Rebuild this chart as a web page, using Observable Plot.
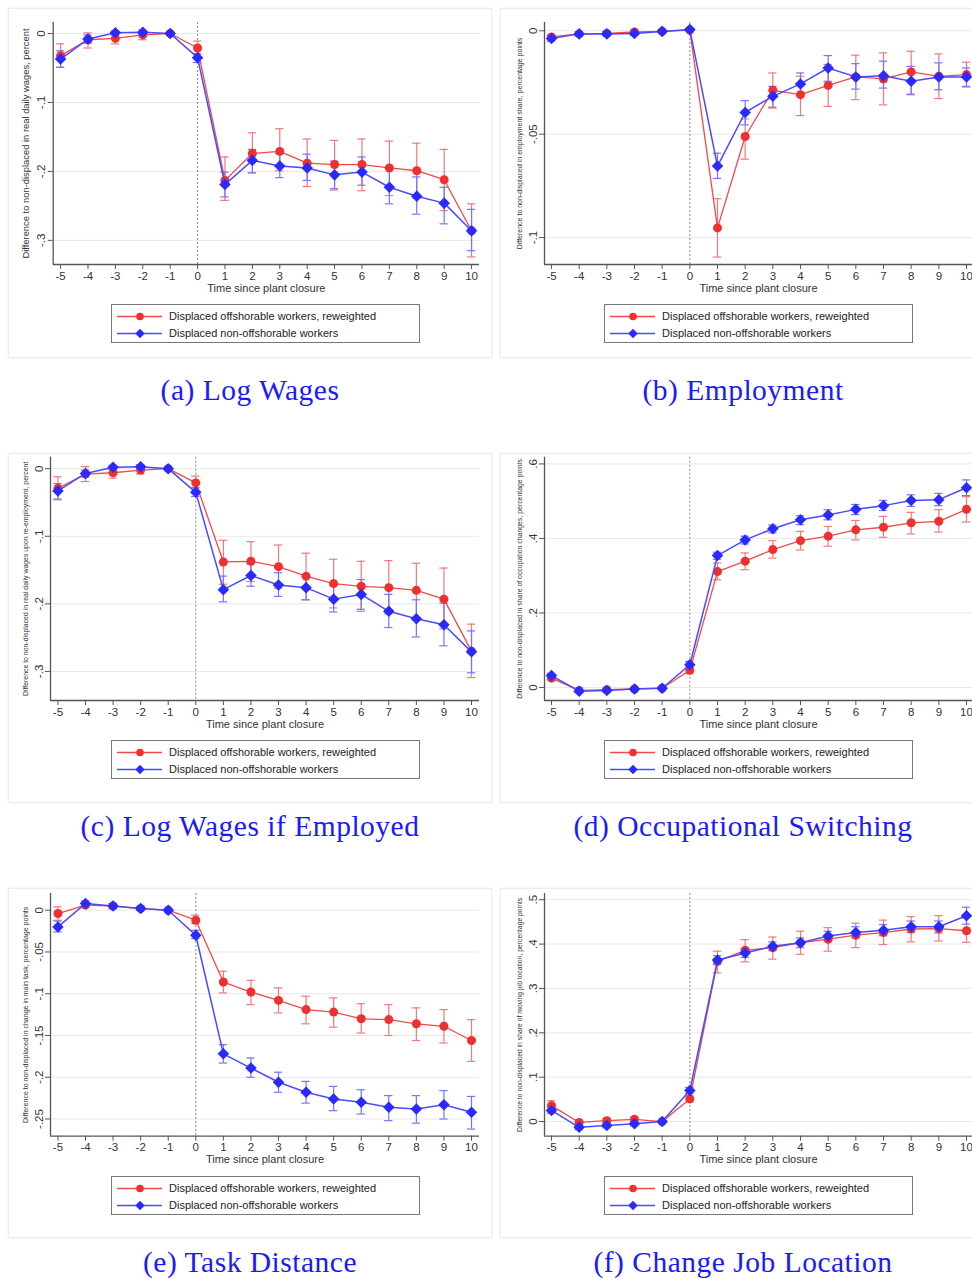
<!DOCTYPE html>
<html><head><meta charset="utf-8">
<script src="https://cdn.jsdelivr.net/npm/d3@7"></script>
<script src="https://cdn.jsdelivr.net/npm/@observablehq/plot@0.6"></script>
<style>
body{margin:0;background:#fff;width:972px;height:1278px;overflow:hidden;font-family:"Liberation Sans",Arial,sans-serif;}
#root{position:relative;width:972px;height:1278px;overflow:hidden;}
.panel{position:absolute;}
.bg{position:absolute;border:1px solid #ededed;background:#fff;box-shadow:0 0 3px #f0f0f0;}
.legend{position:absolute;border:1px solid #777;background:#fff;height:39px;width:309px;box-sizing:border-box;}
.legend .t{position:absolute;left:57px;font-size:11px;color:#222;white-space:nowrap;line-height:13px;}
.caption{position:absolute;font-family:"Liberation Serif",serif;color:#1a1aff;font-size:29.5px;transform:translate(-50%,-50%);white-space:nowrap;letter-spacing:0.5px;}
svg{overflow:visible;}
</style></head>
<body><div id="root"></div>
<script>
// ---------------- data ----------------
const years = [-5,-4,-3,-2,-1,0,1,2,3,4,5,6,7,8,9,10];
const legendLabels = ["Displaced offshorable workers, reweighted", "Displaced non-offshorable workers"];
const xTitle = "Time since plant closure";

// each entry: [ci low, estimate, ci high]
// (a) Log Wages
const aRed = [[-0.049,-0.032,-0.015],[-0.021,-0.009,0.001],[-0.015,-0.007,-0.0005],[-0.009,-0.002,0.003],[0,0,0],[-0.031,-0.021,-0.011],
  [-0.242,-0.213,-0.179],[-0.202,-0.174,-0.144],[-0.199,-0.171,-0.138],[-0.222,-0.188,-0.153],[-0.227,-0.190,-0.155],[-0.228,-0.190,-0.153],
  [-0.235,-0.195,-0.156],[-0.239,-0.199,-0.159],[-0.257,-0.212,-0.168],[-0.324,-0.286,-0.247]];
const aBlue = [[-0.049,-0.037,-0.025],[-0.014,-0.008,-0.002],[-0.002,0.001,0.004],[-0.001,0.002,0.005],[0,0,0],[-0.042,-0.035,-0.029],
  [-0.237,-0.219,-0.201],[-0.202,-0.184,-0.168],[-0.209,-0.192,-0.174],[-0.213,-0.195,-0.175],[-0.225,-0.205,-0.185],[-0.220,-0.201,-0.179],
  [-0.247,-0.223,-0.196],[-0.262,-0.236,-0.208],[-0.276,-0.246,-0.223],[-0.315,-0.286,-0.255]];
// (b) Employment
const bRed = [[-0.005,-0.003,-0.002],[-0.0025,-0.0015,-0.0005],[-0.0023,-0.0013,-0.0003],[-0.0016,-0.0006,0.0004],[-0.0008,-0.0003,0.0002],[-0.0002,0.0003,0.0008],
  [-0.1094,-0.0953,-0.0812],[-0.0621,-0.0511,-0.0426],[-0.0374,-0.0288,-0.0204],[-0.041,-0.0309,-0.022],[-0.0366,-0.0264,-0.0163],[-0.0333,-0.0223,-0.0118],
  [-0.0358,-0.0233,-0.0107],[-0.0306,-0.0199,-0.0099],[-0.0328,-0.022,-0.0112],[-0.0272,-0.0212,-0.0152]];
const bBlue = [[-0.005,-0.0037,-0.0024],[-0.0025,-0.0015,-0.0005],[-0.0025,-0.0015,-0.0005],[-0.0023,-0.0013,-0.0003],[-0.0008,-0.0003,0.0002],[0.0001,0.0006,0.0011],
  [-0.0714,-0.0654,-0.0592],[-0.0455,-0.0395,-0.0338],[-0.0369,-0.0317,-0.0269],[-0.0314,-0.0257,-0.0204],[-0.0244,-0.018,-0.012],[-0.0282,-0.0223,-0.0159],
  [-0.0277,-0.0217,-0.0147],[-0.0309,-0.0244,-0.0172],[-0.0285,-0.0223,-0.0155],[-0.0269,-0.0223,-0.018]];
// (c) Log Wages if Employed
const cRed = [[-0.046,-0.029,-0.012],[-0.019,-0.008,0.003],[-0.014,-0.006,-0.0005],[-0.008,-0.002,0.002],[0,0,0],[-0.030,-0.021,-0.011],
  [-0.171,-0.138,-0.106],[-0.167,-0.137,-0.108],[-0.177,-0.145,-0.113],[-0.194,-0.159,-0.125],[-0.206,-0.170,-0.134],[-0.211,-0.174,-0.137],
  [-0.215,-0.176,-0.136],[-0.222,-0.180,-0.140],[-0.237,-0.193,-0.147],[-0.309,-0.270,-0.230]];
const cBlue = [[-0.045,-0.033,-0.022],[-0.012,-0.007,-0.002],[-0.001,0.002,0.005],[0,0.003,0.006],[0,0,0],[-0.041,-0.035,-0.028],
  [-0.197,-0.179,-0.159],[-0.174,-0.158,-0.141],[-0.189,-0.172,-0.154],[-0.194,-0.176,-0.157],[-0.212,-0.193,-0.173],[-0.208,-0.186,-0.164],
  [-0.235,-0.211,-0.186],[-0.249,-0.222,-0.194],[-0.262,-0.231,-0.199],[-0.302,-0.271,-0.240]];
// (d) Occupational Switching
const dRed = [[0.020,0.025,0.030],[-0.012,-0.008,-0.004],[-0.010,-0.006,-0.002],[-0.007,-0.004,-0.001],[-0.005,-0.002,0.001],[0.037,0.046,0.055],
  [0.289,0.311,0.334],[0.316,0.339,0.361],[0.347,0.370,0.394],[0.369,0.394,0.419],[0.379,0.406,0.432],[0.396,0.423,0.448],
  [0.403,0.430,0.459],[0.412,0.442,0.470],[0.417,0.446,0.477],[0.444,0.478,0.512]];
const dBlue = [[0.026,0.032,0.038],[-0.014,-0.010,-0.006],[-0.012,-0.008,-0.004],[-0.007,-0.004,-0.001],[-0.005,-0.002,0.001],[0.052,0.061,0.070],
  [0.344,0.354,0.363],[0.385,0.396,0.406],[0.415,0.426,0.436],[0.437,0.450,0.461],[0.450,0.463,0.477],[0.464,0.478,0.491],
  [0.475,0.488,0.502],[0.486,0.502,0.517],[0.488,0.504,0.521],[0.515,0.536,0.557]];
// (e) Task Distance
const eRed = [[-0.012,-0.004,0.004],[0.003,0.006,0.009],[0.002,0.005,0.008],[0,0.002,0.004],[0,0,0],[-0.016,-0.012,-0.006],
  [-0.099,-0.086,-0.073],[-0.113,-0.098,-0.084],[-0.123,-0.108,-0.093],[-0.136,-0.119,-0.103],[-0.140,-0.122,-0.105],[-0.147,-0.130,-0.112],
  [-0.150,-0.131,-0.113],[-0.156,-0.136,-0.117],[-0.159,-0.139,-0.119],[-0.181,-0.156,-0.131]];
const eBlue = [[-0.026,-0.020,-0.013],[0.005,0.008,0.011],[0.002,0.005,0.008],[0,0.002,0.004],[0,0,0],[-0.034,-0.030,-0.024],
  [-0.183,-0.172,-0.161],[-0.200,-0.189,-0.177],[-0.218,-0.206,-0.194],[-0.231,-0.218,-0.205],[-0.240,-0.226,-0.211],[-0.244,-0.230,-0.215],
  [-0.252,-0.236,-0.222],[-0.255,-0.238,-0.222],[-0.250,-0.233,-0.216],[-0.262,-0.242,-0.223]];
// (f) Change Job Location
const fRed = [[0.025,0.036,0.047],[-0.007,-0.002,0.003],[-0.003,0.002,0.007],[0,0.005,0.010],[0,0,0],[0.044,0.051,0.058],
  [0.335,0.361,0.384],[0.360,0.386,0.410],[0.366,0.392,0.416],[0.377,0.403,0.429],[0.384,0.411,0.437],[0.392,0.420,0.447],
  [0.399,0.426,0.454],[0.405,0.434,0.462],[0.407,0.435,0.464],[0.404,0.430,0.459]];
const fBlue = [[0.019,0.025,0.031],[-0.018,-0.013,-0.008],[-0.014,-0.009,-0.004],[-0.010,-0.005,0],[0,0,0],[0.063,0.070,0.077],
  [0.354,0.364,0.374],[0.370,0.380,0.390],[0.385,0.395,0.405],[0.392,0.403,0.414],[0.407,0.418,0.429],[0.414,0.426,0.439],
  [0.419,0.431,0.444],[0.426,0.439,0.452],[0.425,0.439,0.452],[0.445,0.464,0.483]];

const yTicksA = [0,-0.1,-0.2,-0.3], yLabA = ["0","-.1","-.2","-.3"];
const yTicksB = [0,-0.05,-0.1], yLabB = ["0","-.05","-.1"];
const yTicksD = [0,0.2,0.4,0.6], yLabD = ["0",".2",".4",".6"];
const yTicksE = [0,-0.05,-0.1,-0.15,-0.2,-0.25], yLabE = ["0","-.05","-.1","-.15","-.2","-.25"];
const yTicksF = [0,0.1,0.2,0.3,0.4,0.5], yLabF = ["0",".1",".2",".3",".4",".5"];

const yTitles = [
  "Difference to non-displaced in real daily wages, percent",
  "Difference to non-displaced in employment share, percentage points",
  "Difference to non-displaced in real daily wages upon re-employment, percent",
  "Difference to non-displaced in share of occupation changes, percentage points",
  "Difference to non-displaced in change in main task, percentage points",
  "Difference to non-displaced in share of moving job location, percentage points"
];
const captions = ["(a) Log Wages","(b) Employment","(c) Log Wages if Employed","(d) Occupational Switching","(e) Task Distance","(f) Change Job Location"];

// ---------------- layout ----------------
const RED = "#f04a4a", RED_DOT = "#ee3030", RED_CI = "#f07a7a";
const BLUE = "#4a4aff", BLUE_DOT = "#2a2aff", BLUE_CI = "#7474ff";

const panels = [
  {red:aRed, blue:aBlue, yt:yTicksA, yl:yLabA, ydom:[-0.335,0.016], col:0,row:0, mL:52.7, yFont:9.4},
  {red:bRed, blue:bBlue, yt:yTicksB, yl:yLabB, ydom:[-0.113,0.004], col:1,row:0, mL:54, yFont:7},
  {red:cRed, blue:cBlue, yt:yTicksA, yl:yLabA, ydom:[-0.343,0.017], col:0,row:1, mL:50, yFont:6.9},
  {red:dRed, blue:dBlue, yt:yTicksD, yl:yLabD, ydom:[-0.035,0.618], col:1,row:1, mL:54, yFont:6.9},
  {red:eRed, blue:eBlue, yt:yTicksE, yl:yLabE, ydom:[-0.2706,0.02], col:0,row:2, mL:50, yFont:7},
  {red:fRed, blue:fBlue, yt:yTicksF, yl:yLabF, ydom:[-0.033,0.514], col:1,row:2, mL:54, yFont:6.8}
];
const colGeom = [
  {left:0, width:490, mR:11, xdom:[-5.27,10.29], legLeft:111, capX:250, bgL:8, bgW:482},
  {left:490, width:482, mR:0, xdom:[-5.253,10.217], legLeft:114, capX:253, bgL:10, bgW:475}
];
const rowGeom = [{top:0, mT:22, mB:36},{top:436, mT:20.7, mB:36},{top:872, mT:21, mB:36.3}];

const root = document.getElementById("root");

function ciMarks(D, color) {
  const cw = 0.15;
  return [
    Plot.ruleX(D.filter(d => d.hi > d.lo), {x:"x", y1:"lo", y2:"hi", stroke:color, strokeWidth:1.2}),
    Plot.ruleY(D.filter(d => d.hi > d.lo), {y:"lo", x1:d => d.x - cw, x2:d => d.x + cw, stroke:color, strokeWidth:1.2}),
    Plot.ruleY(D.filter(d => d.hi > d.lo), {y:"hi", x1:d => d.x - cw, x2:d => d.x + cw, stroke:color, strokeWidth:1.2})
  ];
}

panels.forEach((p, k) => {
  const cg = colGeom[p.col], rg = rowGeom[p.row];
  const H = 300;
  const wrap = document.createElement("div");
  wrap.className = "panel";
  wrap.style.left = cg.left + "px"; wrap.style.top = rg.top + "px";
  wrap.style.width = cg.width + "px"; wrap.style.height = "360px";
  root.appendChild(wrap);

  const bg = document.createElement("div");
  bg.className = "bg";
  bg.style.left = cg.bgL + "px"; bg.style.top = (8 + (rg.top === 0 ? 0 : (p.row===1?9:8))) + "px";
  bg.style.width = cg.bgW + "px"; bg.style.height = "348px";
  wrap.appendChild(bg);

  const mk = arr => years.map((x, i) => ({x, lo:arr[i][0], y:arr[i][1], hi:arr[i][2]}));
  const R = mk(p.red), B = mk(p.blue);

  const chart = Plot.plot({
    width: cg.width, height: H,
    marginLeft: p.mL, marginRight: cg.mR, marginTop: rg.mT, marginBottom: rg.mB,
    x: {domain: cg.xdom},
    y: {domain: p.ydom},
    style: {fontFamily: '"Liberation Sans", Arial, sans-serif', color: "#333", background: "transparent", overflow: "visible"},
    marks: [
      Plot.ruleY(p.yt, {stroke:"#e8e8e8", strokeWidth:1}),
      Plot.ruleX([0], {stroke:"#8a8a8a", strokeDasharray:"2,2", strokeWidth:1}),
      ...ciMarks(R, RED_CI),
      ...ciMarks(B, BLUE_CI),
      Plot.line(R, {x:"x", y:"y", stroke:RED, strokeWidth:1.3}),
      Plot.dot(R, {x:"x", y:"y", r:4.5, fill:RED_DOT, symbol:"circle"}),
      Plot.line(B, {x:"x", y:"y", stroke:BLUE, strokeWidth:1.5}),
      Plot.dot(B, {x:"x", y:"y", r:5.2, fill:BLUE_DOT, symbol:"diamond2"}),
      Plot.axisX({ticks: years, tickSize:5, tickPadding:2, tickFormat: d => String(d), fontSize:11.5, label:null, stroke:"#555"}),
      Plot.axisY({ticks: p.yt, tickSize:5, tickFormat: () => "", label:null, stroke:"#555"}),
      Plot.ruleX([cg.xdom[0]], {stroke:"#555", strokeWidth:1.3}),
      Plot.ruleY([p.ydom[0]], {stroke:"#555", strokeWidth:1.3}),
      Plot.text(p.yt, {y: d => d, text: (d, i) => p.yl[i], frameAnchor:"left", rotate:-90, dx:-8, lineAnchor:"bottom", textAnchor:"middle", fontSize:11.5, fill:"#333"}),
      Plot.text([yTitles[k]], {text: d => d, frameAnchor:"left", rotate:-90, dx: (k === 0 ? -27 : -25), textAnchor:"middle", fontSize:p.yFont, fill:"#333"}),
      Plot.text([xTitle], {text: d => d, frameAnchor:"bottom", dy:27, textAnchor:"middle", fontSize:11, fill:"#333"})
    ]
  });
  chart.style.position = "absolute"; chart.style.left = "0px"; chart.style.top = "0px";
  wrap.appendChild(chart);

  const lg = document.createElement("div");
  lg.className = "legend";
  lg.style.left = cg.legLeft + "px"; lg.style.top = "304px";
  lg.innerHTML = `<svg width="60" height="39" style="position:absolute;left:0;top:0">
    <line x1="5" x2="50" y1="11.5" y2="11.5" stroke="${RED}" stroke-width="1.3"/>
    <circle cx="28" cy="11.5" r="3.8" fill="${RED_DOT}"/>
    <line x1="5" x2="50" y1="28.5" y2="28.5" stroke="${BLUE}" stroke-width="1.5"/>
    <path d="M28,23.8 L32.7,28.5 L28,33.2 L23.3,28.5 Z" fill="${BLUE_DOT}"/>
  </svg>
  <div class="t" style="top:5px">${legendLabels[0]}</div>
  <div class="t" style="top:22px">${legendLabels[1]}</div>`;
  wrap.appendChild(lg);

  const cap = document.createElement("div");
  cap.className = "caption";
  cap.style.left = cg.capX + "px"; cap.style.top = "390px";
  cap.textContent = captions[k];
  wrap.appendChild(cap);
});
</script>
</body></html>
